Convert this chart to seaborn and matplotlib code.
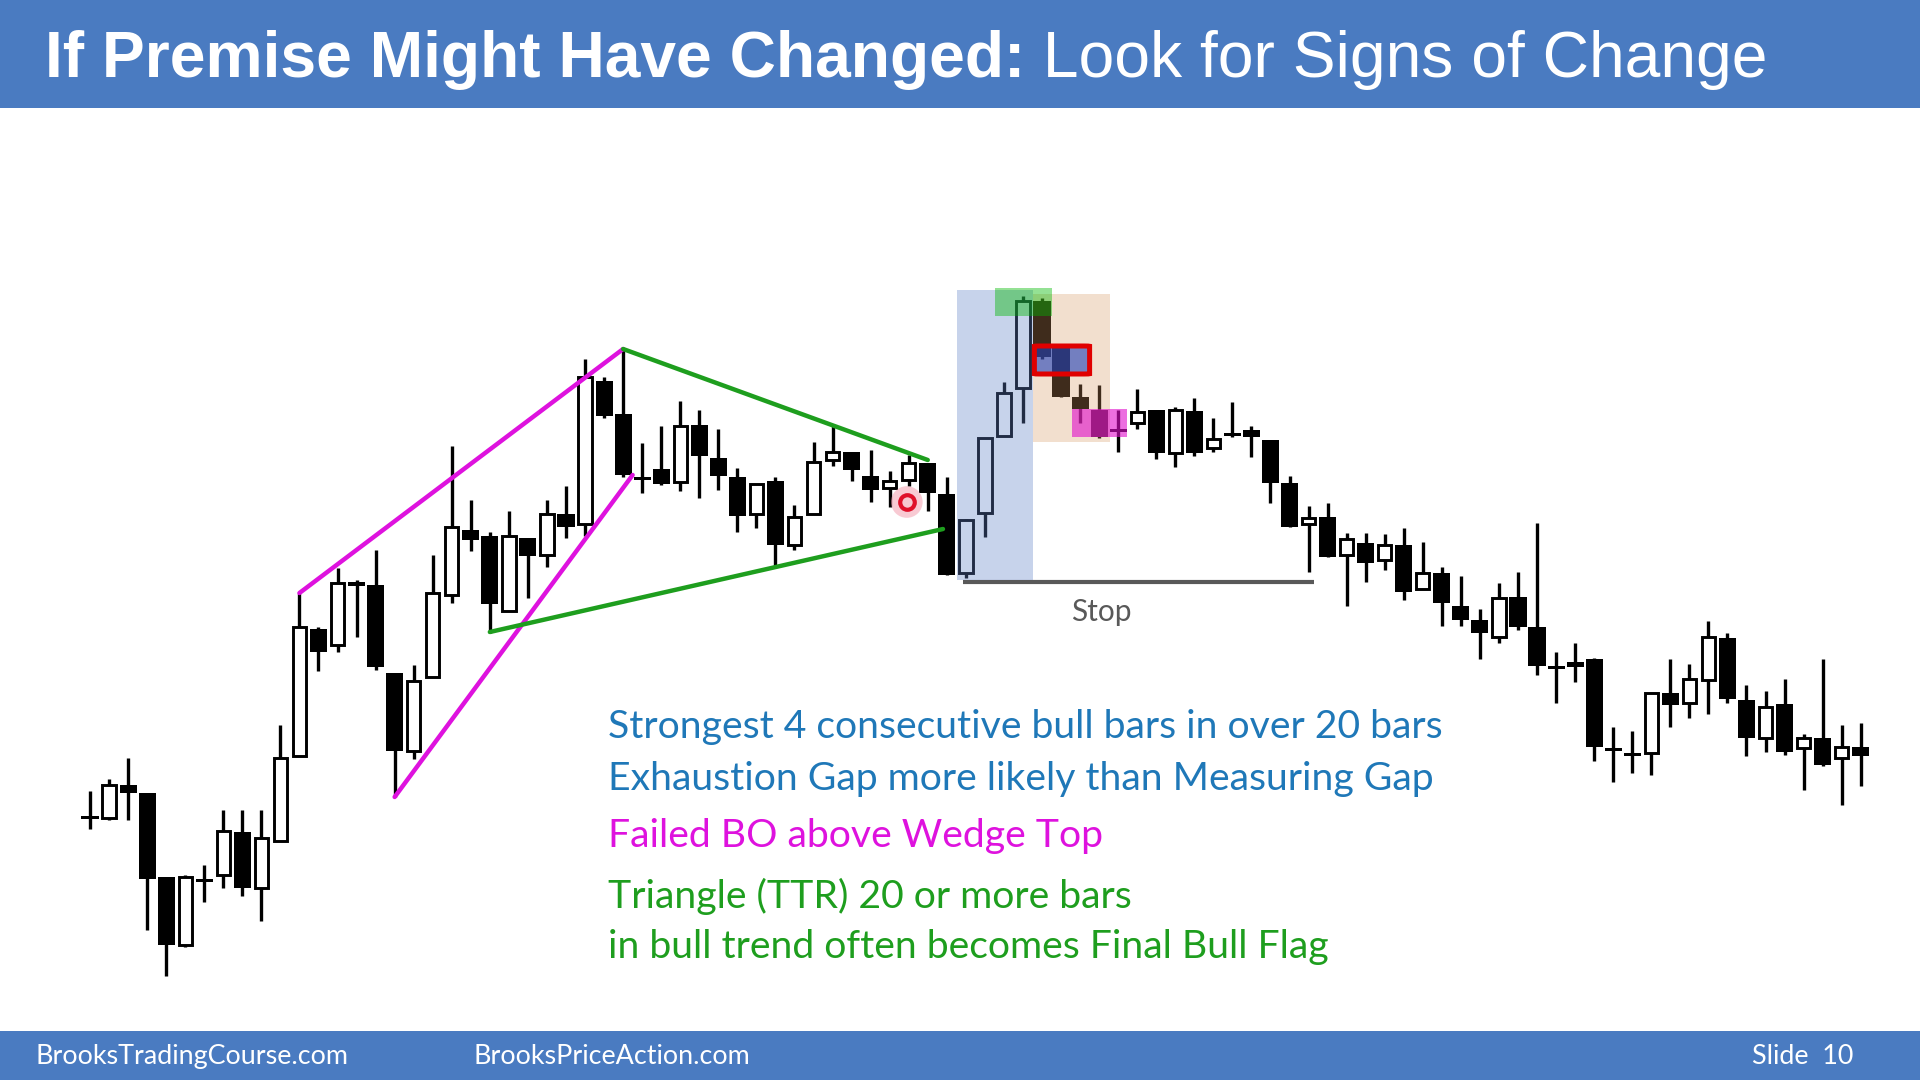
import matplotlib
matplotlib.use('Agg')
import matplotlib.pyplot as plt
from matplotlib.patches import Rectangle, FancyBboxPatch
import seaborn as sns
import numpy as np
import pandas as pd

# OHLC price bars (one entry per bar, left to right)
opens = [182, 182, 215, 207, 123, 55, 122, 125, 168, 112,
         159, 244, 371, 355, 418, 415, 327, 249, 323, 405,
         470, 464, 389, 462, 445, 486, 476, 619, 586, 523,
         531, 518, 575, 542, 523, 486, 519, 455, 486, 540,
         548, 524, 512, 520, 537, 506, 427, 487, 564, 612,
         699, 652, 603, 590, 571, 577, 590, 547, 589, 552,
         568, 570, 560, 517, 476, 483, 445, 457, 440, 455,
         411, 427, 394, 380, 363, 403, 373, 334, 338, 341,
         253, 248, 247, 307, 297, 320, 362, 300, 262, 296,
         252, 262, 242, 253]
highs = [209, 221, 242, 207, 123, 125, 135, 190, 190, 190,
         275, 407, 373, 432, 420, 450, 327, 335, 445, 554,
         500, 468, 489, 462, 500, 514, 641, 623, 651, 557,
         574, 599, 590, 571, 532, 516, 523, 495, 558, 575,
         548, 550, 529, 545, 537, 523, 481, 562, 618, 704,
         702, 653, 616, 615, 590, 611, 590, 593, 602, 582,
         598, 574, 560, 524, 494, 497, 467, 467, 466, 472,
         458, 433, 424, 391, 417, 428, 477, 348, 357, 342,
         273, 269, 307, 341, 336, 379, 367, 315, 309, 321,
         266, 341, 275, 277]
lows = [171, 180, 180, 70, 24, 53, 98, 112, 104, 79,
        159, 244, 329, 348, 363, 330, 203, 241, 323, 397,
        449, 367, 389, 402, 433, 462, 464, 582, 523, 507,
        515, 509, 502, 510, 468, 472, 434, 450, 486, 534,
        519, 498, 493, 514, 489, 425, 422, 463, 564, 577,
        641, 603, 577, 562, 548, 571, 541, 533, 544, 548,
        563, 543, 497, 473, 428, 443, 394, 418, 430, 400,
        411, 374, 374, 341, 357, 370, 325, 297, 318, 239,
        218, 227, 225, 273, 282, 286, 297, 244, 248, 245,
        210, 234, 195, 214]
closes = [183, 215, 207, 121, 55, 123, 120, 169, 112, 162,
          242, 373, 348, 417, 414, 333, 249, 319, 407, 473,
          460, 396, 464, 444, 486, 473, 623, 584, 525, 522,
          516, 574, 544, 524, 484, 516, 455, 483, 538, 548,
          530, 510, 519, 537, 507, 425, 480, 562, 607, 699,
          643, 603, 591, 563, 568, 588, 547, 590, 547, 561,
          566, 563, 517, 473, 482, 443, 461, 437, 455, 408,
          427, 397, 380, 367, 402, 373, 334, 333, 333, 253,
          251, 246, 307, 295, 321, 363, 301, 262, 293, 248,
          262, 235, 253, 244]

# trend lines: (bar index, price) end points
wedge_top = [(11, 407), (28, 651)]
wedge_bottom = [(16, 203), (28.5, 525)]
triangle_top = [(28, 651), (44, 540)]
triangle_bottom = [(21, 368), (44.8, 471)]
stop_level = 418
stop_span = (45.85, 64.3)

title_bold = "If Premise Might Have Changed:"
title_rest = " Look for Signs of Change"
notes = [
    ("Strongest 4 consecutive bull bars in over 20 bars", "#1F78B8"),
    ("Exhaustion Gap more likely than Measuring Gap", "#1F78B8"),
    ("Failed BO above Wedge Top", "#DE12DE"),
    ("Triangle (TTR) 20 or more bars", "#1E9E1E"),
    ("in bull trend often becomes Final Bull Flag", "#1E9E1E"),
]
note_baselines = [738, 790, 847, 908, 958]

df = pd.DataFrame({'open': opens, 'high': highs, 'low': lows, 'close': closes})
df['bar'] = np.arange(len(df))
df['bull'] = df['close'] > df['open'] + 2

sns.set_theme(style="white")
plt.rcParams['font.family'] = ['Lato', 'DejaVu Sans']

fig = plt.figure(figsize=(19.2, 10.8), dpi=100)
fig.patch.set_facecolor('white')
ax = fig.add_axes([0, 0, 1, 1])
ax.set_facecolor('white')
step = 19.04
x0 = -90 / step
ax.set_xlim(x0, x0 + 1920 / step)
ax.set_ylim(-80, 1000)
ax.axis('off')

# wicks
ax.vlines(df['bar'], df['low'], df['high'], color='black', lw=2.4, zorder=2)

# bodies
bear = df[~df['bull']]
bull = df[df['bull']]
bear_h = np.maximum((bear['open'] - bear['close']).abs(), 3)
bear_b = np.minimum(bear['open'], bear['close'])
bear_b = np.where((bear['open'] - bear['close']).abs() < 3, bear['close'] - 1.5, bear_b)
ax.bar(bear['bar'], bear_h, bottom=bear_b, width=0.9, color='black',
       linewidth=0, zorder=3)
ax.bar(bull['bar'], bull['close'] - bull['open'], bottom=bull['open'], width=0.7,
       facecolor='white', edgecolor='black', linewidth=2.1, zorder=3)

# trend lines
for pts, col in [(wedge_top, '#DE12DE'), (wedge_bottom, '#DE12DE'),
                 (triangle_top, '#1E9E1E'), (triangle_bottom, '#1E9E1E')]:
    sns.lineplot(x=[p[0] for p in pts], y=[p[1] for p in pts], color=col,
                 lw=3.2, sort=False, ax=ax, zorder=4)

# highlight boxes
ax.add_patch(Rectangle((45.54, 420), 3.99, 290, facecolor=(0.38, 0.506, 0.786),
                       alpha=0.35, lw=0, zorder=5))
ax.add_patch(Rectangle((49.53, 558), 4.04, 148, facecolor=(0.83, 0.583, 0.373),
                       alpha=0.3, lw=0, zorder=5))
ax.add_patch(Rectangle((47.53, 684), 3.0, 28, facecolor=(0.0, 0.72, 0.0),
                       alpha=0.42, lw=0, zorder=6))
ax.add_patch(Rectangle((51.58, 563), 2.88, 28, facecolor=(0.88, 0.05, 0.8),
                       alpha=0.6, lw=0, zorder=6))
ax.add_patch(FancyBboxPatch((49.6, 626), 2.9, 28,
                            boxstyle="round,pad=0,rounding_size=0.3",
                            facecolor=(0.12, 0.25, 0.72), alpha=0.6, lw=0, zorder=7))
ax.add_patch(FancyBboxPatch((49.6, 626), 2.9, 28,
                            boxstyle="round,pad=0,rounding_size=0.3",
                            facecolor='none', edgecolor='#E00000', lw=3.6, zorder=8))

# laser pointer dot
sns.scatterplot(x=[42.9], y=[498], s=520, color='#F4A0B0', alpha=0.55,
                edgecolor='none', ax=ax, zorder=6)
sns.scatterplot(x=[42.9], y=[498], s=110, color='#F6C8D0', edgecolor='#E0102A',
                linewidth=3, ax=ax, zorder=7)

# stop line
ax.hlines(stop_level, stop_span[0], stop_span[1], color='#595959', lw=3, zorder=4)
ax.text(53.1, stop_level - 30, "Stop", color='#595959', fontsize=21.5,
        ha='center', va='center', zorder=9)

# notes
for (txt, col), base in zip(notes, note_baselines):
    fig.text(608 / 1920, 1 - base / 1080, txt, color=col, fontsize=28.2,
             ha='left', va='baseline')

# header and footer bands
band = '#4A7BC1'
fig.patches.append(Rectangle((0, 1 - 108 / 1080), 1, 108 / 1080, transform=fig.transFigure,
                             facecolor=band, lw=0, zorder=0))
fig.patches.append(Rectangle((0, 0), 1, 49 / 1080, transform=fig.transFigure,
                             facecolor=band, lw=0, zorder=0))

renderer = fig.canvas.get_renderer()
t1 = fig.text(45 / 1920, 1 - 77 / 1080, title_bold, color='white', fontsize=46.2,
              fontweight='bold', family=['Liberation Sans', 'DejaVu Sans'],
              ha='left', va='baseline')
bb = t1.get_window_extent(renderer)
fig.text(bb.x1 / 1920, 1 - 77 / 1080, title_rest, color='white', fontsize=46.2,
         family=['Liberation Sans', 'DejaVu Sans'], ha='left', va='baseline')

fig.text(35 / 1920, 1 - 1064 / 1080, "BrooksTradingCourse.com", color='white',
         fontsize=19.4, ha='left', va='baseline')
fig.text(474 / 1920, 1 - 1064 / 1080, "BrooksPriceAction.com", color='white',
         fontsize=19.4, ha='left', va='baseline')
fig.text(1853 / 1920, 1 - 1064 / 1080, "Slide  10", color='white',
         fontsize=19.4, ha='right', va='baseline')

fig.savefig('out.png', dpi=100, facecolor='white')
